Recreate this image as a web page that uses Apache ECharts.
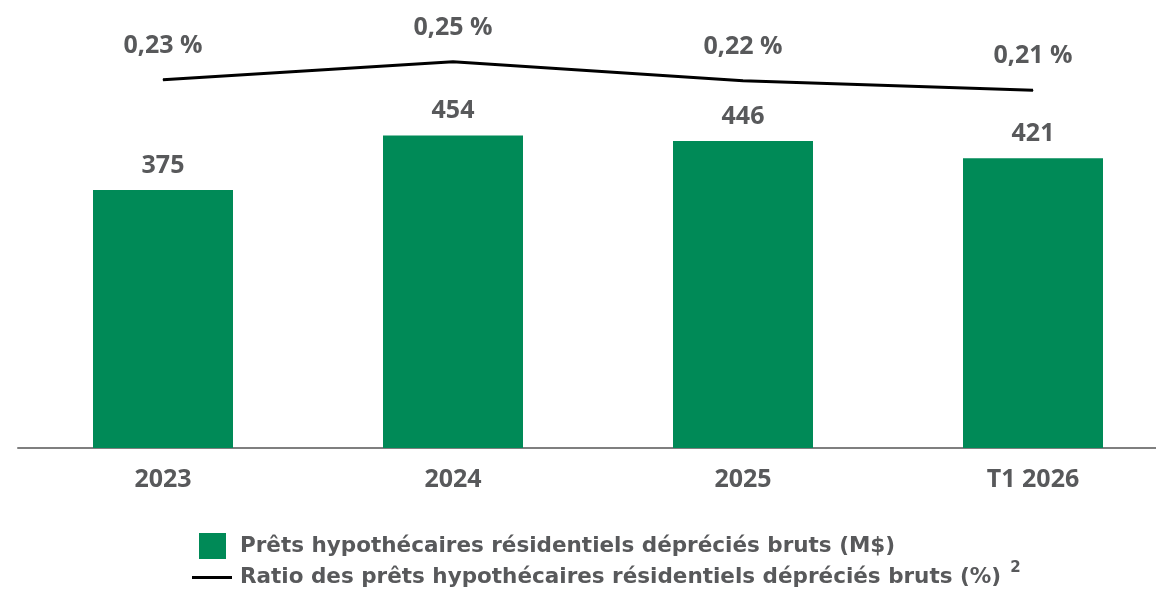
<!DOCTYPE html>
<html>
<head>
<meta charset="utf-8">
<script src="https://cdn.jsdelivr.net/npm/echarts@6/dist/echarts.min.js"></script>
<style>
  html, body { margin: 0; padding: 0; background: #fff; }
  #chart { width: 1156px; height: 591px; }
</style>
</head>
<body>
<div id="chart"></div>
<script>
var categories = ['2023', '2024', '2025', 'T1 2026'];
var loanValues = [375, 454, 446, 421];
var ratioValues = [0.2262, 0.2519, 0.2248, 0.2112];
var barName = 'Prêts hypothécaires résidentiels dépréciés bruts (M$)';
var lineName = 'Ratio des prêts hypothécaires résidentiels dépréciés bruts (%)';

var textColor = '#58595b';
var fontFam = '"Open Sans", sans-serif';
var legendFont = '"DejaVu Sans", sans-serif';

var chart = echarts.init(document.getElementById('chart'));

var option = {
    animation: false,
    grid: { left: 18, width: 1160, top: 35, bottom: 143, outerBoundsMode: 'none' },
    legend: [
        {
            data: [barName],
            left: 194, top: 528,
            itemWidth: 27, itemHeight: 26,
            icon: 'rect',
            textStyle: { color: textColor, fontFamily: legendFont, fontWeight: 'bold', fontSize: 21.5, padding: [0, 0, 0, 9] }
        },
        {
            data: [{ name: lineName, icon: 'rect', itemStyle: { color: '#000' } }],
            left: 187, top: 556,
            itemWidth: 40, itemHeight: 3,
            textStyle: {
                color: textColor, fontFamily: legendFont, fontWeight: 'bold', fontSize: 21.5, padding: [0, 0, 0, 3],
                rich: {
                    sup: { fontSize: 15, fontWeight: 'bold', color: textColor, fontFamily: legendFont, padding: [0, 0, 18, 9] }
                }
            },
            formatter: function (name) { return name + '{sup|2}'; }
        }
    ],
    xAxis: {
        type: 'category',
        data: categories,
        axisTick: { show: false },
        axisLine: { lineStyle: { color: '#7f7f7f', width: 2 } },
        axisLabel: { color: textColor, fontFamily: fontFam, fontWeight: 'bold', fontSize: 25, margin: 19 }
    },
    yAxis: [
        { type: 'value', min: 0, max: 600, show: false, splitLine: { show: false } },
        { type: 'value', min: -0.3, max: 0.29, show: false, splitLine: { show: false } }
    ],
    series: [
        {
            name: barName,
            type: 'bar',
            data: loanValues,
            barWidth: 140,
            itemStyle: { color: '#008a57' },
            label: {
                show: true, position: 'top', distance: 12,
                color: textColor, fontFamily: fontFam, fontWeight: 'bold', fontSize: 25
            }
        },
        {
            name: lineName,
            type: 'line',
            yAxisIndex: 1,
            data: ratioValues,
            symbol: 'circle',
            symbolSize: 1,
            lineStyle: { color: '#000', width: 3 },
            itemStyle: { color: '#000' },
            label: {
                show: true, position: 'top', distance: 21,
                color: textColor, fontFamily: fontFam, fontWeight: 'bold', fontSize: 25,
                formatter: function (p) { return p.value.toFixed(2).replace('.', ',') + ' %'; }
            }
        }
    ]
};
chart.setOption(option);
</script>
</body>
</html>
